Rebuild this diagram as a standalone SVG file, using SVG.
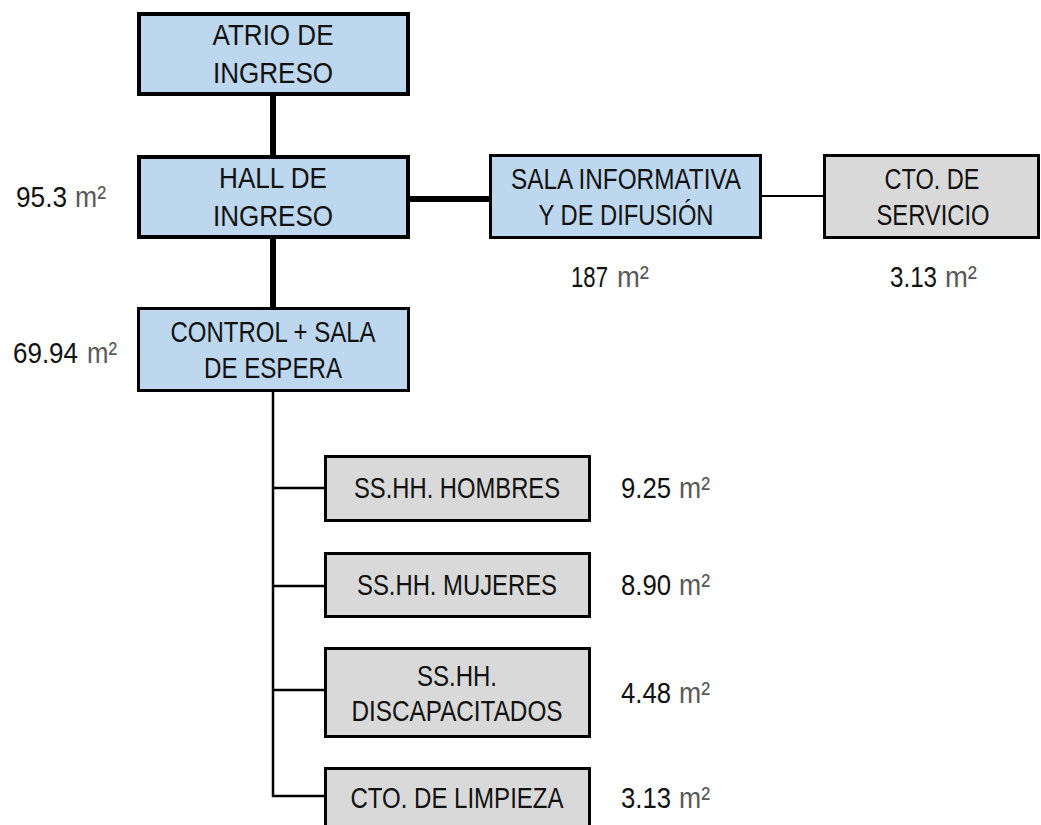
<svg xmlns="http://www.w3.org/2000/svg" width="1041" height="825" viewBox="0 0 1041 825">
<style>
.blue{fill:#BDD7EE;stroke:#000;}
.grey{fill:#D9D9D9;stroke:#000;stroke-width:3;}
.t{font-family:"Liberation Sans",Arial,sans-serif;font-size:30px;fill:#111;text-anchor:middle;}
.a{font-family:"Liberation Sans",Arial,sans-serif;font-size:30px;fill:#111;}
.u{font-family:"Liberation Sans",Arial,sans-serif;font-size:30px;fill:#595959;}
.c{stroke:#000;fill:none;}
</style>
<rect width="1041" height="825" fill="#fff"/>
<g id="connectors">
<line class="c" x1="273" y1="94" x2="273" y2="157" stroke-width="6"/>
<line class="c" x1="273" y1="237" x2="273" y2="309" stroke-width="6"/>
<line class="c" x1="408" y1="199" x2="491" y2="199" stroke-width="6"/>
<line class="c" x1="761" y1="196" x2="824" y2="196" stroke-width="2"/>
<line class="c" x1="273" y1="391" x2="273" y2="797" stroke-width="2.5"/>
<line class="c" x1="272" y1="488" x2="325" y2="488" stroke-width="2.5"/>
<line class="c" x1="272" y1="586" x2="325" y2="586" stroke-width="2.5"/>
<line class="c" x1="272" y1="690" x2="325" y2="690" stroke-width="2.5"/>
<line class="c" x1="272" y1="796" x2="325" y2="796" stroke-width="2.5"/>
</g>
<g id="atrio">
<rect class="blue" x="139" y="14" width="269" height="80" stroke-width="4"/>
<text class="t" x="273" y="45" textLength="121" lengthAdjust="spacingAndGlyphs">ATRIO DE</text>
<text class="t" x="273" y="83" textLength="120" lengthAdjust="spacingAndGlyphs">INGRESO</text>
</g>
<g id="hall">
<rect class="blue" x="139" y="157" width="269" height="80" stroke-width="4"/>
<text class="t" x="273" y="188" textLength="108" lengthAdjust="spacingAndGlyphs">HALL DE</text>
<text class="t" x="273" y="226" textLength="120" lengthAdjust="spacingAndGlyphs">INGRESO</text>
<text class="a" x="16" y="207" textLength="51" lengthAdjust="spacingAndGlyphs">95.3</text>
<text class="u" x="75" y="207" textLength="31" lengthAdjust="spacingAndGlyphs">m²</text>
</g>
<g id="control">
<rect class="blue" x="138.5" y="308.5" width="270" height="82" stroke-width="3"/>
<text class="t" x="273" y="342" textLength="205" lengthAdjust="spacingAndGlyphs">CONTROL + SALA</text>
<text class="t" x="273" y="378" textLength="138" lengthAdjust="spacingAndGlyphs">DE ESPERA</text>
<text class="a" x="13" y="363" textLength="65" lengthAdjust="spacingAndGlyphs">69.94</text>
<text class="u" x="87" y="363" textLength="30" lengthAdjust="spacingAndGlyphs">m²</text>
</g>
<g id="sala">
<rect class="blue" x="490.5" y="155.5" width="270" height="82" stroke-width="3"/>
<text class="t" x="626" y="189" textLength="230" lengthAdjust="spacingAndGlyphs">SALA INFORMATIVA</text>
<text class="t" x="626" y="225" textLength="175" lengthAdjust="spacingAndGlyphs">Y DE DIFUSIÓN</text>
<text class="a" x="571" y="287" textLength="37" lengthAdjust="spacingAndGlyphs">187</text>
<text class="u" x="617" y="287" textLength="32" lengthAdjust="spacingAndGlyphs">m²</text>
</g>
<g id="servicio">
<rect class="grey" x="824.5" y="155.5" width="214" height="82"/>
<text class="t" x="932" y="189" textLength="95" lengthAdjust="spacingAndGlyphs">CTO. DE</text>
<text class="t" x="933" y="225" textLength="113" lengthAdjust="spacingAndGlyphs">SERVICIO</text>
<text class="a" x="890" y="287" textLength="47" lengthAdjust="spacingAndGlyphs">3.13</text>
<text class="u" x="945" y="287" textLength="32" lengthAdjust="spacingAndGlyphs">m²</text>
</g>
<g id="hombres">
<rect class="grey" x="325.5" y="456.5" width="264" height="64"/>
<text class="t" x="457" y="498" textLength="206" lengthAdjust="spacingAndGlyphs">SS.HH. HOMBRES</text>
<text class="a" x="621" y="498" textLength="50" lengthAdjust="spacingAndGlyphs">9.25</text>
<text class="u" x="679" y="498" textLength="31" lengthAdjust="spacingAndGlyphs">m²</text>
</g>
<g id="mujeres">
<rect class="grey" x="325.5" y="553.5" width="264" height="63"/>
<text class="t" x="457" y="595" textLength="200" lengthAdjust="spacingAndGlyphs">SS.HH. MUJERES</text>
<text class="a" x="621" y="595" textLength="50" lengthAdjust="spacingAndGlyphs">8.90</text>
<text class="u" x="679" y="595" textLength="31" lengthAdjust="spacingAndGlyphs">m²</text>
</g>
<g id="discapacitados">
<rect class="grey" x="325.5" y="648.5" width="264" height="88"/>
<text class="t" x="457" y="686" textLength="80" lengthAdjust="spacingAndGlyphs">SS.HH.</text>
<text class="t" x="457" y="721" textLength="211" lengthAdjust="spacingAndGlyphs">DISCAPACITADOS</text>
<text class="a" x="621" y="703" textLength="50" lengthAdjust="spacingAndGlyphs">4.48</text>
<text class="u" x="679" y="703" textLength="31" lengthAdjust="spacingAndGlyphs">m²</text>
</g>
<g id="limpieza">
<rect class="grey" x="325.5" y="768.5" width="264" height="70"/>
<text class="t" x="457" y="808" textLength="213" lengthAdjust="spacingAndGlyphs">CTO. DE LIMPIEZA</text>
<text class="a" x="621" y="808" textLength="50" lengthAdjust="spacingAndGlyphs">3.13</text>
<text class="u" x="679" y="808" textLength="31" lengthAdjust="spacingAndGlyphs">m²</text>
</g>
</svg>
